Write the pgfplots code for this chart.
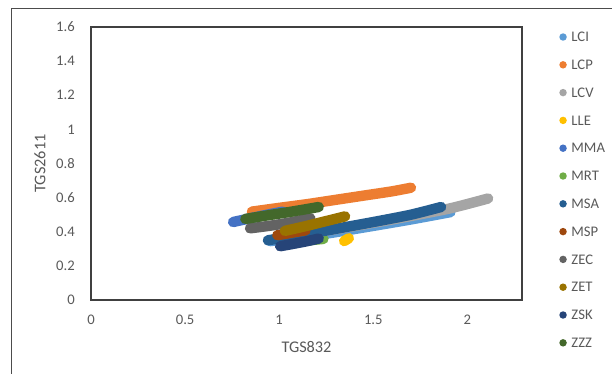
\documentclass[border=0pt]{standalone}
\usepackage{pgfplots}
\pgfplotsset{compat=1.18}
\usepackage{fontspec}
\setmainfont{Carlito}

\definecolor{cLCI}{HTML}{5B9BD5}
\definecolor{cLCP}{HTML}{ED7D31}
\definecolor{cLCV}{HTML}{A5A5A5}
\definecolor{cLLE}{HTML}{FFC000}
\definecolor{cMMA}{HTML}{4472C4}
\definecolor{cMRT}{HTML}{70AD47}
\definecolor{cMSA}{HTML}{255E91}
\definecolor{cMSP}{HTML}{9E480E}
\definecolor{cZEC}{HTML}{636363}
\definecolor{cZET}{HTML}{997300}
\definecolor{cZSK}{HTML}{264478}
\definecolor{cZZZ}{HTML}{43682B}
\definecolor{txt}{HTML}{595959}

\pgfplotsset{
  band/.style={line width=7.8pt, line cap=round, line join=round, smooth, tension=0.4},
}

\begin{document}
\begin{tikzpicture}
\useasboundingbox (0,0) rectangle (459pt,280.5pt);
% chart frame
\draw[black!70, line width=0.7pt] (8.25pt,0) -- (8.25pt,274.5pt) -- (459pt,274.5pt);
\begin{axis}[
  at={(68.25pt,55.5pt)}, anchor=south west,
  scale only axis, width=323.25pt, height=204.75pt,
  xmin=0, xmax=2.29, ymin=0, ymax=1.6,
  xtick={0,0.5,1,1.5,2},
  ytick={0,0.2,0.4,0.6,0.8,1,1.2,1.4,1.6},
  major tick length=0pt,
  axis line style={draw=black!75, line width=0.8pt},
  /pgf/number format/assume math mode=true,
  tick label style={font=\fontsize{11}{13}\selectfont, text=txt},
  yticklabel style={inner sep=0pt, anchor=east, xshift=-12pt},
  xticklabel style={inner sep=0pt, anchor=north, yshift=-11pt},
  xlabel={TGS832}, ylabel={TGS2611},
  label style={font=\fontsize{12.2}{14}\selectfont, text=txt},
  xlabel style={at={(axis description cs:0.5,-0.172)}, anchor=center},
  ylabel style={at={(axis description cs:-0.1183,0.5)}, anchor=center},
  clip=false,
  legend cell align=left,
  legend image code/.code={\path[#1, draw=none, fill] (0pt,0pt) circle (2.8pt);},
  legend style={
    at={(axis description cs:1.0866,0.9853)}, anchor=north west,
    draw=none, fill=none, inner sep=0pt, outer sep=0pt,
    row sep=11.85pt, column sep=3.5pt,
    font=\fontsize{11}{13}\selectfont, text=txt,
    nodes={inner sep=0pt, text height=8pt, text depth=1pt},
  },
]
\addplot[band, color=cLCI] coordinates {(0.95,0.345) (1.2,0.38) (1.45,0.425) (1.7,0.472) (1.91,0.515)};
\addlegendentry{LCI}
\addplot[band, color=cLCP] coordinates {(0.855,0.518) (1.0,0.54) (1.15,0.562) (1.3,0.587) (1.45,0.612) (1.6,0.637) (1.70,0.658)};
\addlegendentry{LCP}
\addplot[band, color=cLCV] coordinates {(1.0,0.36) (1.3,0.415) (1.6,0.472) (1.9,0.535) (2.11,0.595)};
\addlegendentry{LCV}
\addplot[band, color=cLLE] coordinates {(1.345,0.345) (1.355,0.352) (1.37,0.362)};
\addlegendentry{LLE}
\addplot[band, color=cMMA] coordinates {(0.755,0.457) (0.85,0.48) (0.95,0.503) (1.02,0.518)};
\addlegendentry{MMA}
\addplot[band, color=cMRT] coordinates {(1.12,0.345) (1.18,0.352) (1.235,0.358)};
\addlegendentry{MRT}
\addplot[band, color=cMSA] coordinates {(0.94,0.35) (1.2,0.397) (1.5,0.457) (1.7,0.5) (1.86,0.545)};
\addlegendentry{MSA}
\addplot[band, color=cMSP] coordinates {(0.99,0.38) (1.06,0.393) (1.14,0.408)};
\addlegendentry{MSP}
\addplot[band, color=cZEC] coordinates {(0.845,0.42) (0.95,0.435) (1.06,0.455) (1.165,0.48)};
\addlegendentry{ZEC}
\addplot[band, color=cZET] coordinates {(1.03,0.405) (1.13,0.43) (1.24,0.46) (1.35,0.49)};
\addlegendentry{ZET}
\addplot[band, color=cZSK] coordinates {(1.005,0.315) (1.08,0.33) (1.15,0.345) (1.21,0.36)};
\addlegendentry{ZSK}
\addplot[band, color=cZZZ] coordinates {(0.82,0.475) (0.92,0.493) (1.05,0.515) (1.21,0.545)};
\addlegendentry{ZZZ}
\end{axis}
\end{tikzpicture}
\end{document}
